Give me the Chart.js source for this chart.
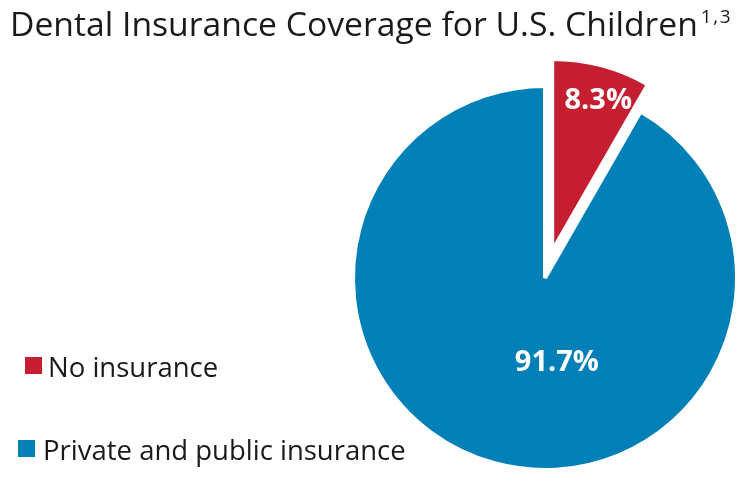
<!DOCTYPE html>
<html>
<head>
<meta charset="utf-8">
<script src="https://cdn.jsdelivr.net/npm/chart.js@4.4.1/dist/chart.umd.min.js"></script>
<style>
  body { margin: 0; background: #fff; font-family: "Open Sans", sans-serif; }
  #wrap { position: relative; width: 750px; height: 500px; overflow: hidden; }
  #chart { position: absolute; left: 0; top: 0; }
  h1 { position: absolute; left: 10px; top: 7px; margin: 0; font-weight: 400; font-size: 33.7px; line-height: 1; color: #1a1a1a; white-space: nowrap; }
  h1 sup { font-size: 19px; letter-spacing: 1.5px; margin-left: 3px; vertical-align: 0; position: relative; top: -13px; }
  .sw { position: absolute; width: 17px; height: 17px; }
  .key { position: absolute; font-size: 27.5px; line-height: 1; color: #1a1a1a; white-space: nowrap; }
</style>
</head>
<body>
<div id="wrap">
  <canvas id="chart" width="750" height="500"></canvas>
  <h1>Dental Insurance Coverage for U.S. Children<sup>1,3</sup></h1>
</div>
<script>
const labels = ['No insurance', 'Private and public insurance'];
const shares = [8.3, 91.7];
const colors = ['#C41E30', '#0080B7'];

// legend rows on the left, plain html
const wrap = document.getElementById('wrap');
const keyRows = [ { sx: 25, sy: 357, tx: 48, ty: 353 }, { sx: 18, sy: 440, tx: 43, ty: 436 } ];
labels.forEach((name, i) => {
  const sw = document.createElement('div');
  sw.className = 'sw';
  sw.style.left = keyRows[i].sx + 'px';
  sw.style.top = keyRows[i].sy + 'px';
  sw.style.background = colors[i];
  wrap.appendChild(sw);
  const t = document.createElement('div');
  t.className = 'key';
  t.style.left = keyRows[i].tx + 'px';
  t.style.top = keyRows[i].ty + 'px';
  t.textContent = name;
  wrap.appendChild(t);
});

// pull the small slice out without growing it (chart.js offset also enlarges the arc)
const explode = {
  id: 'explode',
  afterDatasetsUpdate(chart) {
    const arc = chart.getDatasetMeta(0).data[0];
    const mid = (arc.startAngle + arc.endAngle) / 2;
    arc.x += Math.cos(mid) * 28;
    arc.y += Math.sin(mid) * 28;
  }
};

// white percentage labels; angle measured clockwise from 12 o'clock
const sliceLabels = {
  id: 'sliceLabels',
  afterDatasetsDraw(chart) {
    const ctx = chart.ctx;
    const meta = chart.getDatasetMeta(0);
    const place = [ { angle: 17, frac: 0.82 }, { angle: 172, frac: 0.445 } ];
    ctx.save();
    ctx.fillStyle = '#fff';
    ctx.font = 'bold 29px "Open Sans"';
    ctx.textAlign = 'center';
    ctx.textBaseline = 'middle';
    meta.data.forEach((arc, i) => {
      const a = place[i].angle * Math.PI / 180;
      const r = arc.outerRadius * place[i].frac;
      ctx.fillText(shares[i].toFixed(1) + '%', arc.x + Math.sin(a) * r, arc.y - Math.cos(a) * r);
    });
    ctx.restore();
  }
};

new Chart(document.getElementById('chart'), {
  type: 'pie',
  data: {
    labels: labels,
    datasets: [{
      data: shares,
      backgroundColor: colors,
      borderColor: '#fff',
      borderWidth: 4,
      hoverOffset: 0
    }]
  },
  options: {
    responsive: false,
    animation: false,
    radius: 192,
    layout: { padding: { left: 340, top: 56, right: 0, bottom: 0 } },
    plugins: {
      legend: { display: false },
      tooltip: { enabled: false }
    }
  },
  plugins: [explode, sliceLabels]
});
</script>
</body>
</html>
